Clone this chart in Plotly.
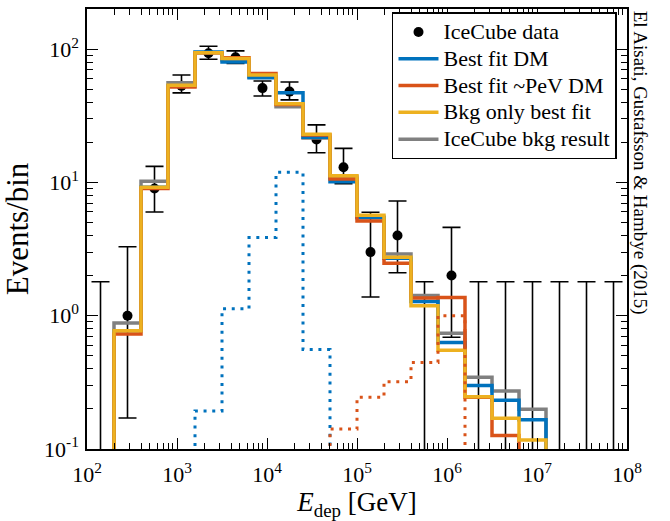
import plotly.graph_objects as go

# ---------------- data ----------------
log_edges = [2.0, 2.3, 2.6, 2.9, 3.2, 3.5, 3.8, 4.1, 4.4, 4.7, 5.0,
             5.3, 5.6, 5.9, 6.2, 6.5, 6.8, 7.1, 7.4, 7.7, 8.0]

bkg_icecube = [0, 0.88, 10.2, 56, 94, 83, 62, 37, 21.5, 11, 5.5, 2.9, 1.42,
               0.74, 0.346, 0.272, 0.199, 0, 0, 0]
best_dm = [0, 0.77, 9.2, 53, 95, 80, 61, 47, 21.8, 10.1, 5.42, 2.7, 1.28,
           0.63, 0.30, 0.232, 0.166, 0, 0, 0]
best_pev = [0, 0.73, 9.0, 52, 94, 86, 65.5, 38.5, 22.7, 10.6, 5.14, 2.47, 1.36,
            1.37, 0.245, 0.126, 0, 0, 0, 0]
bkg_only = [0, 0.77, 9.2, 53.5, 94, 85, 64, 39, 23, 11.2, 5.67, 2.74, 1.19,
            0.55, 0.247, 0.17, 0.117, 0, 0, 0]
dm_component = [0, 0, 0, 0, 0.193, 1.13, 3.86, 11.9, 0.557, 0, 0, 0, 0,
                0, 0, 0, 0, 0, 0, 0]
pev_component = [0, 0, 0, 0, 0, 0, 0, 0, 0, 0.141, 0.244, 0.32, 0.446,
                 1.0, 0, 0, 0, 0, 0, 0]

data_center_exp = [2.45, 2.75, 3.05, 3.35, 3.65, 3.95, 4.25, 4.55, 4.85,
                   5.15, 5.45, 6.05]
data_val = [1.0, 9.0, 53, 93, 87, 51, 48, 21, 13, 3.0, 4.0, 2.0]
data_lo = [0.171, 6.0, 47, 84, 78, 44.5, 41.6, 16.7, 9.8, 1.38, 2.1, 0.69]
data_hi = [3.29, 13.2, 64, 105, 97, 57.7, 56.7, 27, 18, 5.97, 7.25, 4.6]

ul_center_exp = [2.15, 5.75, 6.35, 6.65, 6.95, 7.25, 7.55, 7.85]
ul_val = [1.8, 1.8, 1.8, 1.8, 1.8, 1.8, 1.8, 1.8]

x_tick_exp = [2, 3, 4, 5, 6, 7, 8]
y_tick_exp = [-1, 0, 1, 2]

# ---------------- styling ----------------
FONT = "Liberation Serif"
C_BLUE = "#0072BD"
C_ORANGE = "#D95319"
C_YELLOW = "#EDB120"
C_GRAY = "#808080"
TINY = 1e-3
LEG_SIZE = "22px"

edges = [10 ** e for e in log_edges]


def step_path(vals):
    idx = [i for i, v in enumerate(vals) if v > 0]
    i0, i1 = idx[0], idx[-1]
    xs = [edges[i0]]
    ys = [TINY]
    for i in range(i0, i1 + 1):
        xs.append(edges[i])
        ys.append(vals[i] if vals[i] > 0 else TINY)
    xs += [edges[i1 + 1], edges[i1 + 1]]
    ys += [vals[i1], TINY]
    return xs, ys


def leg(name):
    return f'<span style="font-size:{LEG_SIZE}">{name}</span>'


fig = go.Figure()

# data points (drawn beneath the curves)
fig.add_trace(go.Scatter(
    x=[10 ** e for e in data_center_exp], y=data_val, mode="markers",
    name=leg("IceCube data"), legendrank=1,
    marker=dict(color="black", size=10),
    error_y=dict(type="data", symmetric=False,
                 array=[h - v for h, v in zip(data_hi, data_val)],
                 arrayminus=[v - l for l, v in zip(data_lo, data_val)],
                 color="black", thickness=1.6, width=9),
))
# upper limits for empty bins
fig.add_trace(go.Scatter(
    x=[10 ** e for e in ul_center_exp], y=ul_val, mode="markers",
    showlegend=False, hoverinfo="skip",
    marker=dict(color="rgba(0,0,0,0)", size=1),
    error_y=dict(type="data", symmetric=False,
                 array=[0] * len(ul_val), arrayminus=ul_val,
                 color="black", thickness=1.6, width=9),
))

for vals, name, color, rank in [
    (bkg_icecube, "IceCube bkg result", C_GRAY, 5),
    (best_dm, "Best fit DM", C_BLUE, 2),
    (best_pev, "Best fit ~PeV DM", C_ORANGE, 3),
    (bkg_only, "Bkg only best fit", C_YELLOW, 4),
]:
    xs, ys = step_path(vals)
    fig.add_trace(go.Scatter(x=xs, y=ys, mode="lines", line_shape="hv",
                             name=leg(name), legendrank=rank,
                             line=dict(color=color, width=3.5)))

for vals, color in [(dm_component, C_BLUE), (pev_component, C_ORANGE)]:
    xs, ys = step_path(vals)
    fig.add_trace(go.Scatter(x=xs, y=ys, mode="lines", line_shape="hv",
                             showlegend=False,
                             line=dict(color=color, width=3, dash="3px,5.7px")))

axis_common = dict(
    type="log", showgrid=False, zeroline=False,
    ticks="inside", ticklen=11, tickwidth=1.3, tickcolor="black",
    showline=True, linewidth=1.5, linecolor="black", mirror="allticks",
    tickfont=dict(family=FONT, size=22, color="black"),
    minor=dict(ticks="inside", ticklen=6, tickwidth=1, tickcolor="black",
               dtick="D1", showgrid=False),
)

fig.update_layout(
    width=670, height=521,
    margin=dict(l=87, r=43, t=7, b=72),
    paper_bgcolor="white", plot_bgcolor="white",
    font=dict(family=FONT, color="black"),
    xaxis=dict(axis_common, range=[2, 8],
               tickvals=[10 ** e for e in x_tick_exp],
               ticktext=[f"10<sup>{e}</sup>" for e in x_tick_exp],
               ticklabelstandoff=5,
               title=dict(text="<i>E</i><sub>dep</sub> [GeV]",
                          font=dict(family=FONT, size=27), standoff=0)),
    yaxis=dict(axis_common, range=[-1, 2.301],
               tickvals=[10 ** e for e in y_tick_exp],
               ticktext=[f"10<sup>{e}</sup>" for e in y_tick_exp],
               ticklabelstandoff=2,
               title=dict(text="Events/bin",
                          font=dict(family=FONT, size=31), standoff=7)),
    legend=dict(x=0.5648, y=0.993, xanchor="left", yanchor="top",
                bgcolor="white", bordercolor="black", borderwidth=1.5,
                font=dict(family=FONT, size=18.3, color="black"),
                itemwidth=40, tracegroupgap=0),
    showlegend=True,
)

fig.add_annotation(
    text="El Aisati, Gustafsson &amp; Hambye (2015)",
    xref="paper", yref="paper", x=1.0247, y=1.0, xanchor="center",
    yanchor="top", textangle=90, showarrow=False,
    font=dict(family=FONT, size=19, color="black"),
)

fig.write_html("out.html")
